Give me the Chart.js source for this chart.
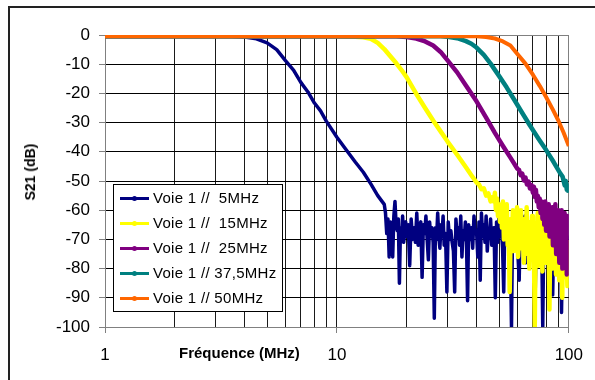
<!DOCTYPE html>
<html>
<head>
<meta charset="utf-8">
<script src="https://cdn.jsdelivr.net/npm/chart.js@4"></script>
<style>
  body { margin: 0; background: #fff; font-family: 'Liberation Sans', Arial, sans-serif; }
  #wrap { position: relative; width: 595px; height: 380px; overflow: hidden; }
  #frame { position: absolute; left: 8px; top: 6px; width: 620px; height: 420px; border: 2px solid #222; }
  canvas { position: absolute; left: 0; top: 0; }
  .ytitle { position: absolute; left: 30px; top: 172px; transform: translate(-50%, -50%) rotate(-90deg);
            font-weight: bold; font-size: 14px; white-space: nowrap; }
  .xtitle { position: absolute; left: 179px; top: 344px; font-weight: bold; font-size: 15px; white-space: nowrap; }
  #legend { position: absolute; left: 113px; top: 184px; width: 168px; height: 126px; border: 1px solid #000;
            background: #fff; font-size: 15px; letter-spacing: 0.3px; }
  .row { position: absolute; left: 5px; height: 20px; white-space: pre; }
  .sw { position: absolute; left: 1px; top: 9px; width: 29px; height: 3px; }
  .dot { position: absolute; left: 12px; top: -1px; width: 5px; height: 5px; border-radius: 50%; }
  .lbl { position: absolute; left: 34px; top: 0; line-height: 20px; }
</style>
</head>
<body>
<div id="wrap">
  <div id="frame"></div>
  <canvas id="c" width="595" height="380"></canvas>
  <div class="ytitle">S21 (dB)</div>
  <div class="xtitle">Fréquence (MHz)</div>
  <div id="legend"></div>
</div>
<script>
// tick labels / grid positions
const xTickLabels = [1, 10, 100];
const gridFreqs = [1, 2, 3, 4, 5, 6, 7, 8, 9, 10, 20, 30, 40, 50, 60, 70, 80, 90, 100];

const seriesNames = ['Voie 1 //  5MHz', 'Voie 1 //  15MHz', 'Voie 1 //  25MHz', 'Voie 1 // 37,5MHz', 'Voie 1 // 50MHz'];
const seriesColors = ['#000080', '#ffff00', '#800080', '#008080', '#ff6600'];

// Voie 1 // 5MHz
const blueFreq = [1, 2, 3, 3.5, 4, 4.5, 5, 5.5, 6, 6.5, 7, 7.5, 8, 8.5, 9, 10, 11, 12, 13, 14, 15, 16,
  16.2, 16.4, 16.6, 16.8, 17.0, 17.2, 17.4, 17.6, 17.8, 18.0,
  18.2, 18.4, 18.6, 18.8, 19.0, 19.2, 19.4, 19.6, 19.8, 20.0,
  20.3, 20.6, 20.9, 21.2, 21.5, 21.8, 22.1, 22.4, 22.7, 23.0,
  23.3, 23.6, 23.9, 24.2, 24.5, 24.8, 25.1, 25.4, 25.7, 26.0,
  26.3, 26.6, 26.9, 27.2, 27.5, 27.8, 28.1, 28.4, 28.7, 29.0,
  29.4, 29.8, 30.2, 30.6, 31.0, 31.4, 31.8, 32.2, 32.6, 33.0,
  33.4, 33.8, 34.2, 34.6, 35.0, 35.4, 35.8, 36.2, 36.6, 37.0,
  37.5, 38.0, 38.5, 39.0, 39.5, 40.0, 40.5, 41.0, 41.5, 42.0,
  42.5, 43.0, 43.5, 44.0, 44.5, 45.0, 45.5, 46.0, 46.5, 47.0,
  47.6, 48.2, 48.8, 49.4, 50.0, 50.6, 51.2, 51.8, 52.4, 53.0,
  53.6, 54.2, 54.8, 55.4, 56.0, 56.6, 57.2, 57.8, 58.4, 59.0,
  59.7, 60.4, 61.1, 61.8, 62.5, 63.2, 63.9, 64.6, 65.3, 66.0,
  66.8, 67.6, 68.4, 69.2, 70.0, 70.8, 71.6, 72.4, 73.2, 74.0,
  74.8, 75.6, 76.4, 77.2, 78.0, 78.9, 79.8, 80.7, 81.6, 82.5,
  83.4, 84.3, 85.2, 86.1, 87.0, 88.0, 89.0, 90.0, 91.0, 92.0,
  93.0, 94.0, 95.0, 96.0, 97.0, 98.0, 99.0, 100];
const blueDb = [-0.4, -0.4, -0.4, -0.4, -0.7, -1.3, -2.7, -5, -8.8, -12, -16.3, -19.5, -23.3, -26, -29.5, -35, -39.5, -43.5, -47, -51, -55, -58,
  -61, -68, -63, -76, -64, -66, -76, -62, -57, -65,
  -67, -63, -85, -66, -70, -62, -71, -68, -64, -69,
  -65, -79, -63, -70, -66, -71, -61, -72, -67, -64,
  -83, -65, -68, -62, -70, -77, -64, -69, -66, -71,
  -97, -66, -70, -61, -69, -73, -65, -68, -62, -72,
  -68, -88, -64, -70, -67, -71, -74, -88, -63, -69,
  -66, -72, -62, -76, -67, -70, -64, -71, -91, -65,
  -70, -66, -73, -62, -68, -67, -76, -64, -84, -61,
  -69, -65, -71, -62, -74, -67, -68, -63, -72, -68,
  -66, -90, -64, -71, -62, -69, -67, -73, -88, -63,
  -70, -66, -72, -64, -75, -100, -66, -70, -64, -72,
  -65, -76, -84, -63, -71, -65, -73, -62, -78, -66,
  -72, -64, -74, -66, -70, -65, -89, -67, -74, -65,
  -76, -66, -72, -100, -68, -75, -66, -76, -67, -73,
  -68, -77, -89, -67, -75, -68, -72, -70, -78, -66,
  -95, -70, -77, -68, -75, -69, -80, -73];

// Voie 1 // 15MHz
const yellowFreq = [1, 5, 10, 12, 13, 14, 15, 16, 17, 18, 19, 20, 22, 24, 26, 28, 30, 33, 36, 38, 40, 41, 42, 43, 44, 45, 46, 47,
  47.5, 48.0, 48.5, 49.0, 49.5, 50.0, 50.5, 51.0, 51.5, 52.0,
  52.5, 53.0, 53.5, 54.0, 54.5, 55.0, 55.6, 56.2, 56.8, 57.4,
  58.0, 58.6, 59.2, 59.8, 60.4, 61.0, 61.6, 62.2, 62.8, 63.4,
  64.0, 64.6, 65.2, 65.8, 66.4, 67.0, 67.6, 68.2, 68.8, 69.4,
  70.0, 70.6, 71.3, 72.0, 72.7, 73.4, 74.1, 74.8, 75.5, 76.2,
  76.9, 77.6, 78.3, 79.0, 79.7, 80.4, 81.1, 81.8, 82.5, 83.2,
  83.9, 84.6, 85.3, 86.0, 86.7, 87.4, 88.1, 88.8, 89.5, 90.2,
  90.9, 91.6, 92.3, 93.0, 93.7, 94.4, 95.1, 95.8, 96.5, 97.2,
  97.9, 98.6, 99.3, 100];
const yellowDb = [-0.4, -0.4, -0.4, -0.6, -0.8, -1.3, -2.7, -4.8, -7.3, -9.6, -12, -14.5, -20.2, -25, -29.3, -33, -36.5, -41, -45.3, -48, -50.5, -51.2, -52.8, -52.5, -55, -54.2, -57, -55.5,
  -57, -54, -60, -56, -62, -58, -64, -60, -66, -57,
  -70, -61, -65, -58, -72, -66, -88, -63, -70, -60,
  -74, -65, -68, -59, -76, -70, -66, -60, -73, -68,
  -78, -63, -71, -59, -75, -67, -80, -64, -71, -62,
  -77, -68, -100, -65, -72, -61, -79, -70, -74, -63,
  -81, -69, -73, -64, -78, -71, -75, -63, -94, -67,
  -76, -70, -80, -66, -73, -64, -82, -72, -77, -65,
  -84, -71, -74, -64, -90, -69, -78, -67, -83, -72,
  -76, -86, -71, -78];

// Voie 1 // 25MHz
const purpleFreq = [1, 10, 18, 20, 22, 24, 26, 28, 30, 33, 36, 40, 44, 48, 52, 56, 60,
  61, 62, 63, 64, 65, 66, 67, 68, 69, 70,
  70.7, 71.4, 72.1, 72.8, 73.5, 74.2, 74.9, 75.6, 76.3, 77.0,
  77.7, 78.4, 79.1, 79.8, 80.5, 81.2, 81.9, 82.6, 83.3, 84.0,
  84.7, 85.4, 86.1, 86.8, 87.5, 88.2, 88.9, 89.6, 90.3, 91.0,
  91.7, 92.4, 93.1, 93.8, 94.5, 95.2, 95.9, 96.6, 97.3, 98.0,
  98.7, 99.4, 100];
const purpleDb = [-0.4, -0.4, -0.4, -0.7, -1.2, -2.2, -3.6, -5.8, -8.7, -12.8, -17.3, -22.7, -28.3, -33.5, -38, -42, -45.8,
  -46.2, -48, -47.5, -49.8, -48.8, -51.2, -50.2, -52.6, -51.4, -54,
  -52, -55.5, -53, -57, -55, -59, -56, -61, -57, -63,
  -58, -65, -57, -67, -61, -62, -58, -69, -63, -66,
  -59, -72, -64, -68, -58, -75, -66, -70, -60, -78,
  -67, -72, -60, -80, -68, -70, -61, -76, -66, -82,
  -62, -74, -68];

// Voie 1 // 37,5MHz
const tealFreq = [1, 10, 20, 28, 30, 33, 36, 38, 40, 43, 46, 50, 54, 58, 63, 68, 74, 80, 86, 92, 94, 96, 97, 98, 99, 100];
const tealDb = [-0.4, -0.4, -0.4, -0.4, -0.6, -1.1, -2.1, -3.0, -4.3, -6.8, -9.8, -14, -18, -22, -26.7, -31, -35.5, -39.5, -43.5, -47.5, -48.5, -51.5, -50, -53, -51.5, -54];

// Voie 1 // 50MHz
const orangeFreq = [1, 10, 30, 40, 44, 48, 52, 56, 60, 65, 70, 75, 80, 85, 90, 95, 100];
const orangeDb = [-0.4, -0.4, -0.4, -0.4, -0.7, -1.2, -2.2, -3.6, -6.5, -9.8, -13.6, -17.5, -21.4, -25.3, -29.2, -33.5, -38];

const freqs = [blueFreq, yellowFreq, purpleFreq, tealFreq, orangeFreq];
const dbs = [blueDb, yellowDb, purpleDb, tealDb, orangeDb];
const widths = [3.5, 4.5, 4.5, 4.5, 4];

const datasets = seriesNames.map((name, i) => ({
  label: name,
  data: freqs[i].map((f, j) => ({ x: f, y: dbs[i][j] })),
  borderColor: seriesColors[i],
  backgroundColor: seriesColors[i],
  borderWidth: widths[i],
  borderJoinStyle: 'round',
  pointRadius: 0,
  tension: 0,
  fill: false,
  order: 4 - i   // later series on top, like the original
}));

// legend
const legend = document.getElementById('legend');
seriesNames.forEach((name, i) => {
  const row = document.createElement('div');
  row.className = 'row';
  row.style.top = (3 + i * 25) + 'px';
  row.innerHTML = `<div class="sw" style="background:${seriesColors[i]}"><div class="dot" style="background:${seriesColors[i]}"></div></div><div class="lbl">${name}</div>`;
  legend.appendChild(row);
});

new Chart(document.getElementById('c'), {
  type: 'line',
  data: { datasets },
  options: {
    responsive: false,
    animation: false,
    layout: { padding: { left: 10, top: 35, right: 25, bottom: 0 } },
    plugins: { legend: { display: false }, tooltip: { enabled: false } },
    scales: {
      x: {
        type: 'logarithmic',
        min: 1,
        max: 100,
        afterBuildTicks: s => { s.ticks = gridFreqs.map(v => ({ value: v })); },
        afterFit: s => { s.height = 53; },
        ticks: {
          autoSkip: false,
          maxRotation: 0,
          padding: 12,
          color: '#000',
          font: { family: 'Liberation Sans', size: 17 },
          callback: v => xTickLabels.includes(v) ? String(v) : ''
        },
        grid: {
          color: c => (c.tick && c.tick.value === 100) ? '#808080' : '#1a1a1a',
          tickColor: c => (c.tick && xTickLabels.includes(c.tick.value)) ? '#808080' : 'rgba(0,0,0,0)',
          tickLength: 6
        },
        border: { color: '#808080', width: 1 }
      },
      y: {
        min: -100,
        max: 0,
        afterFit: s => { s.width = 95; },
        ticks: {
          stepSize: 10,
          padding: 9,
          color: '#000',
          font: { family: 'Liberation Sans', size: 17 }
        },
        grid: {
          color: c => (c.tick && c.tick.value === 0) ? '#808080' : '#000',
          tickColor: '#808080',
          tickLength: 6
        },
        border: { color: '#808080', width: 1 }
      }
    }
  }
});
</script>
</body>
</html>
